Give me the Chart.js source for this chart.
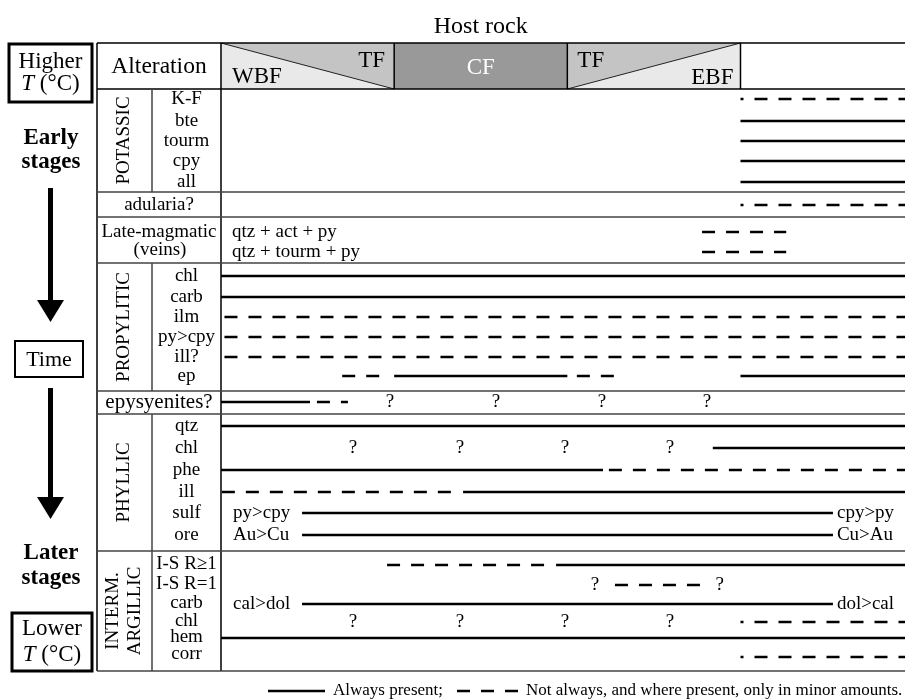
<!DOCTYPE html>
<html><head><meta charset="utf-8">
<script src="https://cdn.jsdelivr.net/npm/chart.js@4/dist/chart.umd.min.js"></script>
<style>html,body{margin:0;padding:0;background:#fff;}canvas{display:block;}</style>
</head><body>
<canvas id="c" width="905" height="699"></canvas>
<script>
// ================= DATA =================
// Host-rock columns along x (units: 0 = WBF edge, 1 = TF/CF, 2 = CF/TF, 3 = EBF edge)
const hostRockColumns = ['WBF / TF', 'CF', 'TF / EBF', ''];
const potassicMinerals   = ['K-F', 'bte', 'tourm', 'cpy', 'all'];
const propyliticMinerals = ['chl', 'carb', 'ilm', 'py>cpy', 'ill?', 'ep'];
const phyllicMinerals    = ['qtz', 'chl', 'phe', 'ill', 'sulf', 'ore'];
const argillicMinerals   = ['I-S R≥1', 'I-S R=1', 'carb', 'chl', 'hem', 'corr'];
const lateMagmaticVeins  = ['qtz + act + py', 'qtz + tourm + py'];

// Always present: [row, from, to]
const alwaysPresent = [
  ['pot.bte', 3, 3.95], ['pot.tourm', 3, 3.95], ['pot.cpy', 3, 3.95], ['pot.all', 3, 3.95],
  ['pro.chl', 0, 3.95], ['pro.carb', 0, 3.95],
  ['pro.ep', 1.0, 2.0], ['pro.ep', 3.0, 3.95],
  ['epys', 0, 0.514],
  ['phy.qtz', 0, 3.95], ['phy.chl', 2.84, 3.95], ['phy.phe', 0, 2.206],
  ['phy.ill', 1.398, 3.95], ['phy.sulf', 0.468, 3.534], ['phy.ore', 0.468, 3.534],
  ['arg.is1', 1.935, 3.95], ['arg.carb', 0.468, 3.534], ['arg.hem', 0, 3.95]
];
// Not always, only minor amounts: [row, from, to]
const minorAmounts = [
  ['pot.kf', 3, 3.95], ['adularia', 3, 3.95],
  ['lm.1', 2.778, 3.264], ['lm.2', 2.778, 3.264],
  ['pro.ilm', 0.02, 3.95], ['pro.py', 0.02, 3.95], ['pro.ill', 0.02, 3.95],
  ['pro.ep', 0.70, 0.976], ['pro.ep', 2.055, 2.29],
  ['epys', 0.554, 0.733],
  ['phy.phe', 2.24, 3.95], ['phy.ill', 0.005, 1.369],
  ['arg.is1', 0.959, 1.871], ['arg.is2', 2.275, 2.766],
  ['arg.chl', 3, 3.95], ['arg.corr', 3, 3.95]
];
// Uncertain occurrences "?": [row, x]
const uncertainMarks = [
  ['epys', 0.976], ['epys', 1.588], ['epys', 2.20], ['epys', 2.806],
  ['phy.chl', 0.762], ['phy.chl', 1.38], ['phy.chl', 1.987], ['phy.chl', 2.593],
  ['arg.is2', 2.16], ['arg.is2', 2.88],
  ['arg.chl', 0.762], ['arg.chl', 1.38], ['arg.chl', 1.987], ['arg.chl', 2.593]
];
// Compositional notes along the lines: [row, x, text]
const rangeNotes = [
  ['lm.1', 0.064, lateMagmaticVeins[0]], ['lm.2', 0.064, lateMagmaticVeins[1]],
  ['phy.sulf', 0.07, 'py>cpy'], ['phy.sulf', 3.557, 'cpy>py'],
  ['phy.ore', 0.07, 'Au>Cu'], ['phy.ore', 3.557, 'Cu>Au'],
  ['arg.carb', 0.07, 'cal>dol'], ['arg.carb', 3.557, 'dol>cal']
];

// ================= LAYOUT (positions/styles) =================
const W = 905, H = 699;
const TABLE = {left: 97, sub: 152, alt: 221, top: 43, body: 89, bottom: 671};
const X_MAX = 3.95;
// row positions (vertical offset below the header, y-scale units)
const ROW_Y = {
  'pot.kf': 10, 'pot.bte': 32, 'pot.tourm': 52, 'pot.cpy': 72, 'pot.all': 93,
  'adularia': 116, 'lm.1': 143, 'lm.2': 163,
  'pro.chl': 187, 'pro.carb': 208, 'pro.ilm': 228, 'pro.py': 248, 'pro.ill': 268, 'pro.ep': 287,
  'epys': 313,
  'phy.qtz': 337, 'phy.chl': 359, 'phy.phe': 381, 'phy.ill': 403, 'phy.sulf': 424, 'phy.ore': 446,
  'arg.is1': 476, 'arg.is2': 496, 'arg.carb': 515, 'arg.chl': 533, 'arg.hem': 549, 'arg.corr': 568
};
const SECTION_BOUNDS = [0, 103, 128, 174, 302, 325, 462, 582];
const SECTIONS = [
  {name: ['POTASSIC'], from: 0, to: 103, rows: ['pot.kf','pot.bte','pot.tourm','pot.cpy','pot.all'], labels: potassicMinerals},
  {name: ['PROPYLITIC'], from: 174, to: 302, rows: ['pro.chl','pro.carb','pro.ilm','pro.py','pro.ill','pro.ep'], labels: propyliticMinerals},
  {name: ['PHYLLIC'], from: 325, to: 462, rows: ['phy.qtz','phy.chl','phy.phe','phy.ill','phy.sulf','phy.ore'], labels: phyllicMinerals},
  {name: ['INTERM.', 'ARGILLIC'], from: 462, to: 582, rows: ['arg.is1','arg.is2','arg.carb','arg.chl','arg.hem','arg.corr'], labels: argillicMinerals}
];
const LABEL_Y_SHIFT = {'arg.is1': -1, 'arg.is2': -1, 'arg.carb': -1, 'arg.chl': -1, 'arg.hem': -1, 'arg.corr': -3};
const SERIF = '"Liberation Serif", "Times New Roman", serif';
const DASH = [13, 11];
const LW = 2.5;

// ================= DATASETS =================
const datasets = [];
alwaysPresent.forEach(([row, a, b]) => datasets.push({
  data: [{x: a, y: ROW_Y[row]}, {x: b, y: ROW_Y[row]}],
  showLine: true, borderColor: '#000', borderWidth: LW, pointRadius: 0, borderDash: [], clip: false
}));
minorAmounts.forEach(([row, a, b]) => datasets.push({
  data: [{x: a, y: ROW_Y[row]}, {x: b, y: ROW_Y[row]}],
  showLine: true, borderColor: '#000', borderWidth: LW, pointRadius: 0,
  borderDash: DASH, borderDashOffset: (a === 3 ? 10 : 0), clip: false
}));

function font(px, style) { return (style || '') + ' ' + px + 'px ' + SERIF; }

const tablePlugin = {
  id: 'paragenesis',
  beforeDatasetsDraw(chart) {
    const ctx = chart.ctx, xs = chart.scales.x, ys = chart.scales.y;
    const X = v => xs.getPixelForValue(v), Y = v => ys.getPixelForValue(v);
    ctx.save();
    // ---- header host rock boxes ----
    const top = TABLE.top, bot = Y(0);
    const c0 = X(0), c1 = X(1), c2 = X(2), c3 = X(3), c4 = W;
    ctx.fillStyle = '#e9e9e9'; ctx.fillRect(c0, top, c1 - c0, bot - top);
    ctx.fillStyle = '#c4c4c4';
    ctx.beginPath(); ctx.moveTo(c0, top); ctx.lineTo(c1, top); ctx.lineTo(c1, bot); ctx.closePath(); ctx.fill();
    ctx.fillStyle = '#999999'; ctx.fillRect(c1, top, c2 - c1, bot - top);
    ctx.fillStyle = '#e9e9e9'; ctx.fillRect(c2, top, c3 - c2, bot - top);
    ctx.fillStyle = '#c4c4c4';
    ctx.beginPath(); ctx.moveTo(c2, top); ctx.lineTo(c3, top); ctx.lineTo(c2, bot); ctx.closePath(); ctx.fill();
    ctx.strokeStyle = '#222'; ctx.lineWidth = 1;
    ctx.beginPath(); ctx.moveTo(c0, top); ctx.lineTo(c1, bot); ctx.moveTo(c2, bot); ctx.lineTo(c3, top); ctx.stroke();
    ctx.strokeStyle = '#000'; ctx.lineWidth = 1.5;
    ctx.beginPath();
    ctx.moveTo(TABLE.left, top); ctx.lineTo(c4, top);
    ctx.moveTo(TABLE.left, bot); ctx.lineTo(c4, bot);
    [c1, c2, c3].forEach(x => { ctx.moveTo(x, top); ctx.lineTo(x, bot); });
    ctx.moveTo(TABLE.left, top); ctx.lineTo(TABLE.left, TABLE.bottom);
    ctx.moveTo(TABLE.alt, top); ctx.lineTo(TABLE.alt, TABLE.bottom);
    ctx.stroke();
    // ---- section separators ----
    ctx.strokeStyle = '#444'; ctx.lineWidth = 1.5;
    ctx.beginPath();
    SECTION_BOUNDS.slice(1).forEach(b => { ctx.moveTo(TABLE.left, Y(b)); ctx.lineTo(W, Y(b)); });
    SECTIONS.forEach(s => { ctx.moveTo(TABLE.sub, Y(s.from)); ctx.lineTo(TABLE.sub, Y(s.to)); });
    ctx.stroke();

    // ---- header texts ----
    ctx.fillStyle = '#000'; ctx.textBaseline = 'middle';
    ctx.font = font(24); ctx.textAlign = 'center';
    ctx.fillText('Host rock', (c1 + c2) / 2, 27);
    ctx.font = font(23.5);
    ctx.fillText('Alteration', (TABLE.left + TABLE.alt) / 2, 67);
    ctx.font = font(23);
    ctx.textAlign = 'left'; ctx.fillText('WBF', c0 + 11, 77);
    ctx.textAlign = 'right'; ctx.fillText('TF', c1 - 9, 61);
    ctx.fillStyle = '#fff'; ctx.textAlign = 'center'; ctx.fillText('CF', (c1 + c2) / 2, 68);
    ctx.fillStyle = '#000';
    ctx.textAlign = 'left'; ctx.fillText('TF', c2 + 10, 61);
    ctx.textAlign = 'right'; ctx.fillText('EBF', c3 - 7, 78);

    // ---- left column labels ----
    const midAlt = (TABLE.left + TABLE.alt) / 2, midSub = (TABLE.sub + TABLE.alt) / 2;
    ctx.font = font(19); ctx.textAlign = 'center';
    ctx.fillText('adularia?', midAlt, Y(ROW_Y['adularia']));
    ctx.fillText('Late-magmatic', midAlt, Y(ROW_Y['lm.1']));
    ctx.fillText('(veins)', midAlt + 1, Y(ROW_Y['lm.2']) - 2);
    ctx.font = font(21);
    ctx.fillText('epysyenites?', midAlt, Y(ROW_Y['epys']));
    SECTIONS.forEach(s => {
      ctx.font = font(19); ctx.textAlign = 'center';
      s.rows.forEach((r, i) => ctx.fillText(s.labels[i], midSub, Y(ROW_Y[r]) + (LABEL_Y_SHIFT[r] || 0)));
      const cy = (Y(s.from) + Y(s.to)) / 2;
      const n = s.name.length;
      s.name.forEach((t, i) => {
        ctx.save();
        ctx.translate((TABLE.left + TABLE.sub) / 2 + (i - (n - 1) / 2) * 22, cy);
        ctx.rotate(-Math.PI / 2);
        ctx.fillText(t, 0, 0);
        ctx.restore();
      });
    });

    // ---- notes and question marks ----
    ctx.font = font(19);
    rangeNotes.forEach(([r, x, t]) => { ctx.textAlign = 'left'; ctx.fillText(t, X(x), Y(ROW_Y[r])); });
    ctx.textAlign = 'center';
    uncertainMarks.forEach(([r, x]) => ctx.fillText('?', X(x), Y(ROW_Y[r])));

    // ---- far-left temperature / time column ----
    const tempBox = (x0, y0, x1, y1, lw, word, wy, ty) => {
      ctx.lineWidth = lw; ctx.strokeStyle = '#000';
      ctx.strokeRect(x0, y0, x1 - x0, y1 - y0);
      const cx = (x0 + x1) / 2;
      ctx.font = font(23); ctx.textAlign = 'center'; ctx.fillText(word, cx, wy);
      ctx.font = font(23, 'italic'); const wT = ctx.measureText('T').width;
      ctx.font = font(23); const wR = ctx.measureText(' (°C)').width;
      const sx = cx - (wT + wR) / 2;
      ctx.textAlign = 'left';
      ctx.font = font(23, 'italic'); ctx.fillText('T', sx, ty);
      ctx.font = font(23); ctx.fillText(' (°C)', sx + wT, ty);
    };
    tempBox(9, 44, 92, 102, 3, 'Higher', 62, 84);
    tempBox(12, 613, 92, 671, 3, 'Lower', 629, 655);
    ctx.lineWidth = 2; ctx.strokeRect(15, 341, 68, 36);
    ctx.font = font(22); ctx.textAlign = 'center'; ctx.fillText('Time', 49, 360);
    ctx.font = font(23, 'bold');
    ctx.fillText('Early', 51, 138); ctx.fillText('stages', 51, 162);
    ctx.fillText('Later', 51, 553); ctx.fillText('stages', 51, 578);
    const arrow = (y0, yh, yt) => {
      ctx.fillRect(48, y0, 5, yh - y0 + 1);
      ctx.beginPath(); ctx.moveTo(37, yh); ctx.lineTo(64, yh); ctx.lineTo(50.5, yt); ctx.closePath(); ctx.fill();
    };
    arrow(188, 300, 322);
    arrow(388, 497, 519);

    // ---- legend ----
    const ly = 691;
    ctx.lineWidth = LW; ctx.strokeStyle = '#000';
    ctx.beginPath(); ctx.moveTo(268, ly); ctx.lineTo(325, ly); ctx.stroke();
    ctx.setLineDash(DASH);
    ctx.beginPath(); ctx.moveTo(457, ly); ctx.lineTo(518, ly); ctx.stroke();
    ctx.setLineDash([]);
    ctx.font = font(17); ctx.textAlign = 'left';
    ctx.fillText('Always present;', 333, ly);
    ctx.fillText('Not always, and where present, only in minor amounts.', 526, ly);
    ctx.restore();
  }
};

new Chart(document.getElementById('c'), {
  type: 'scatter',
  data: {datasets},
  options: {
    responsive: false, animation: false, devicePixelRatio: 1,
    layout: {padding: {left: TABLE.alt, right: 0, top: TABLE.body, bottom: H - TABLE.bottom}},
    scales: {
      x: {type: 'linear', min: 0, max: X_MAX, display: false},
      y: {type: 'linear', min: 0, max: SECTION_BOUNDS[SECTION_BOUNDS.length - 1], reverse: true, display: false}
    },
    plugins: {legend: {display: false}, tooltip: {enabled: false}},
    elements: {line: {tension: 0, borderCapStyle: 'butt'}}
  },
  plugins: [tablePlugin]
});
</script>
</body></html>
